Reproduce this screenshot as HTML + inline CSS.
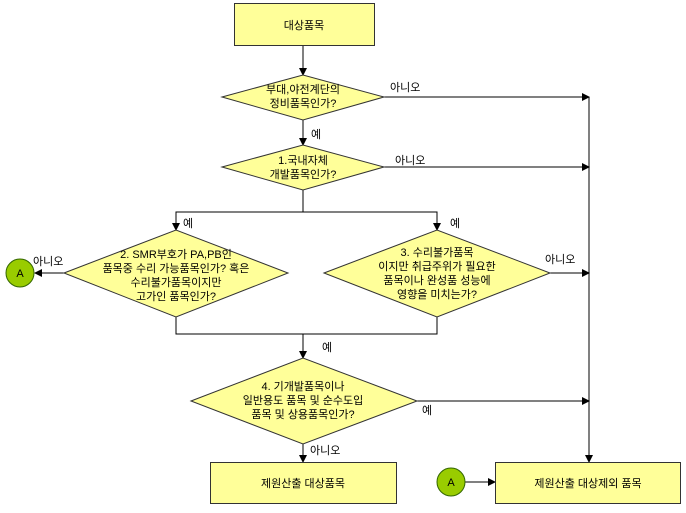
<!DOCTYPE html>
<html><head><meta charset="utf-8"><style>
body{margin:0;background:#fff}
svg text{font-family:"Liberation Sans","Noto Sans CJK KR","NanumGothic",sans-serif;font-size:11px;fill:#000}
</style></head><body>
<svg width="686" height="508" viewBox="0 0 686 508" xmlns="http://www.w3.org/2000/svg">
<defs><marker id="a" markerWidth="8" markerHeight="8" refX="7" refY="4" orient="auto" markerUnits="userSpaceOnUse"><path d="M0,0 L8,4 L0,8 z" fill="#000"/></marker></defs>
<g stroke="#000" stroke-width="1" fill="none">
<line x1="303" y1="45" x2="303" y2="75" marker-end="url(#a)"/>
<line x1="384" y1="97" x2="589" y2="97" marker-end="url(#a)"/>
<line x1="589" y1="97" x2="589" y2="462" marker-end="url(#a)"/>
<line x1="303" y1="120" x2="303" y2="145" marker-end="url(#a)"/>
<line x1="384" y1="167" x2="589" y2="167" marker-end="url(#a)"/>
<line x1="303" y1="190" x2="303" y2="212"/>
<polyline points="176,230 176,212 437,212 437,230"/>
<line x1="176" y1="213" x2="176" y2="230" marker-end="url(#a)"/>
<line x1="437" y1="213" x2="437" y2="230" marker-end="url(#a)"/>
<line x1="550" y1="273" x2="589" y2="273" marker-end="url(#a)"/>
<line x1="64" y1="273" x2="35" y2="273" marker-end="url(#a)"/>
<polyline points="176,317 176,334 437,334 437,317"/>
<line x1="303" y1="334" x2="303" y2="358" marker-end="url(#a)"/>
<line x1="417" y1="401" x2="589" y2="401" marker-end="url(#a)"/>
<line x1="303" y1="444" x2="303" y2="462" marker-end="url(#a)"/>
<line x1="465" y1="482" x2="495" y2="482" marker-end="url(#a)"/>
</g>
<g stroke="#333" stroke-width="1" fill="#ffff99">
<rect x="234.5" y="3.5" width="140" height="42"/>
<polygon points="222,97 303,75 384,97 303,120"/>
<polygon points="222,167 303,145 384,167 303,190"/>
<polygon points="64,273 176,230 288,273 176,317"/>
<polygon points="324,273 437,230 550,273 437,317"/>
<polygon points="191,401 303,358 417,401 303,444"/>
<rect x="210.5" y="462.5" width="186" height="41"/>
<rect x="495.5" y="462.5" width="185" height="41"/>
</g>
<g stroke="#336600" fill="#99cc00">
<circle cx="20" cy="273" r="14"/>
<circle cx="451" cy="482" r="14"/>
</g>
<g text-anchor="middle">
<text x="304" y="29" font-size="13">대상품목</text>
<text x="303" y="93">부대,야전계단의</text>
<text x="303" y="107">정비품목인가?</text>
<text x="303" y="164">1.국내자체</text>
<text x="303" y="178">개발품목인가?</text>
<text x="176" y="258" font-size="10.5">2. SMR부호가 PA,PB인</text>
<text x="176" y="272" font-size="10.5">품목중 수리 가능품목인가? 혹은</text>
<text x="176" y="286" font-size="10.5">수리불가품목이지만</text>
<text x="176" y="300" font-size="10.5">고가인 품목인가?</text>
<text x="437" y="256" font-size="10.5">3. 수리불가품목</text>
<text x="437" y="270" font-size="10.5">이지만 취급주위가 필요한</text>
<text x="437" y="284" font-size="10.5">품목이나  완성품 성능에</text>
<text x="437" y="298" font-size="10.5">영향을 미치는가?</text>
<text x="303" y="390" font-size="10.5">4. 기개발품목이나</text>
<text x="303" y="404" font-size="10.5">일반용도 품목 및 순수도입</text>
<text x="303" y="418" font-size="10.5">품목 및 상용품목인가?</text>
<text x="303" y="487" font-size="13">제원산출 대상품목</text>
<text x="588" y="487" font-size="13">제원산출 대상제외 품목</text>
<text x="20" y="277" font-size="10">A</text>
<text x="451" y="486" font-size="10">A</text>
</g>
<text x="390" y="91">아니오</text>
<text x="311" y="138">예</text>
<text x="395" y="164">아니오</text>
<text x="183" y="227">예</text>
<text x="450" y="227">예</text>
<text x="33" y="265">아니오</text>
<text x="545" y="263">아니오</text>
<text x="322" y="351">예</text>
<text x="422" y="414">예</text>
<text x="310" y="454">아니오</text>
</svg>
</body></html>
